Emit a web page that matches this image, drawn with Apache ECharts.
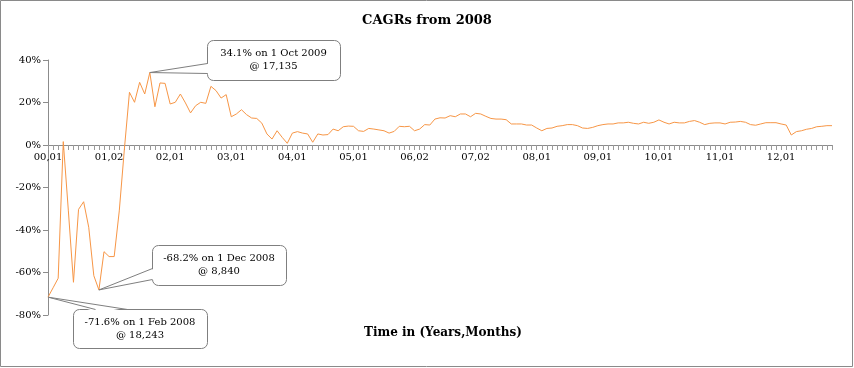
<!DOCTYPE html>
<html>
<head>
<meta charset="utf-8">
<script src="https://cdn.jsdelivr.net/npm/echarts@6/dist/echarts.min.js"></script>
<style>
html,body{margin:0;padding:0;background:#fff;}
#c{width:854px;height:368px;}
</style>
</head>
<body>
<div id="c"></div>
<script>
// Monthly CAGR (%) from 1 Feb 2008 to 1 Dec 2020
const cagrValues = [
 -71.6,-67.2,-62.7,1.6,-31,-64.6,-30.3,-26.7,-38.7,-61.5,
 -68.2,-50.2,-52.5,-52.5,-31,-2,24.8,20.1,29.5,24.0,
 34.1,18.0,29.2,29.0,19.3,20.1,24.0,19.8,15.1,18.5,
 20.1,19.6,27.6,25.6,22.1,23.7,13.3,14.6,16.6,14.3,
 12.7,12.5,10.3,5.2,2.8,6.7,3.6,0.8,5.6,6.3,
 5.6,5.2,1.3,5.2,4.7,4.9,7.5,6.7,8.6,8.9,
 8.8,6.7,6.4,7.8,7.5,7.1,6.7,5.6,6.4,8.8,
 8.6,8.8,6.7,7.5,9.6,9.4,12.2,12.8,12.7,13.8,
 13.3,14.6,14.6,13.3,14.9,14.6,13.5,12.5,12.2,12.2,
 11.9,9.9,9.9,9.9,9.4,9.4,8.0,6.7,7.8,8.0,
 8.8,9.1,9.6,9.6,9.1,8.0,7.8,8.3,9.1,9.6,
 9.9,9.9,10.4,10.4,10.7,10.2,9.9,10.7,10.2,10.7,
 11.8,10.7,9.9,10.7,10.4,10.4,11.1,11.5,10.7,9.6,
 10.2,10.4,10.4,9.9,10.7,10.8,11.1,10.7,9.6,9.3,
 9.9,10.5,10.5,10.5,9.9,9.4,4.7,6.3,6.7,7.4,
 7.8,8.6,8.8,9.1,9.1
];
// x tick labels shown every 12 months (Years,Months)
const xTickLabels = ['00,01','01,02','02,01','03,01','04,01','05,01','06,02','07,02','08,01','09,01','10,01','11,01','12,01'];
const yTicks = {min:-80, max:40, interval:20};
// Annotated points: index into cagrValues, and callout text
const annotationIdx = [20, 10, 0];
const annotationText = [
 ['34.1% on 1 Oct 2009','@ 17,135'],
 ['-68.2% on 1 Dec 2008','@ 8,840'],
 ['-71.6% on 1 Feb 2008','@ 18,243']
];

const months = ['Jan','Feb','Mar','Apr','May','Jun','Jul','Aug','Sep','Oct','Nov','Dec'];
const categories = cagrValues.map((v,i)=>{const m=1+i; return months[m%12]+' '+(2008+Math.floor(m/12));});

const FONT = '"DejaVu Serif", "Liberation Serif", serif';
const GRID = {left:48, right:22, top:60, bottom:53};
const chart = echarts.init(document.getElementById('c'), null, {renderer:'canvas'});
// distance from grid bottom to the zero line (x axis sits on 0%)
const plotH = 368 - GRID.top - GRID.bottom;
const zeroOffset = -Math.round(plotH * (0 - yTicks.min) / (yTicks.max - yTicks.min));
chart.setOption({
  animation:false,
  backgroundColor:'#fff',
  title:[
    {text:'CAGRs from 2008', left:'center', top:9,
     textStyle:{fontFamily:FONT, fontSize:13, fontWeight:'bold', color:'#000'}},
    {text:'Time in (Years,Months)', left:438, top:322, textAlign:'center',
     textStyle:{fontFamily:FONT, fontSize:12, fontWeight:'bold', color:'#000'}}
  ],
  grid:GRID,
  xAxis:{
    type:'category', data:categories, boundaryGap:false,
    offset:zeroOffset,
    axisLine:{onZero:false, lineStyle:{color:'#8c8c8c', width:1}},
    axisTick:{show:true, interval:0, length:5, lineStyle:{color:'#9a9a9a'}},
    axisLabel:{interval:11, margin:7, fontFamily:FONT, fontSize:10, color:'#000',
      formatter:(v,i)=> xTickLabels[Math.round(i/12)] || ''},
    splitLine:{show:false}
  },
  yAxis:{
    type:'value', min:yTicks.min, max:yTicks.max, interval:yTicks.interval,
    axisLine:{show:true, lineStyle:{color:'#8c8c8c'}},
    axisTick:{show:true, length:5, lineStyle:{color:'#8c8c8c'}},
    axisLabel:{formatter:'{value}%', margin:7, fontFamily:FONT, fontSize:10, color:'#000'},
    splitLine:{show:false}
  },
  series:[{
    type:'line', data:cagrValues, showSymbol:false, symbol:'none',
    lineStyle:{color:'#F79646', width:1}, itemStyle:{color:'#F79646'}
  }]
});

// Callout layout (box rect and wedge base points on the box edge)
const boxes = [
  {x:207, y:40, w:133, h:40, b1:[207,63], b2:[207,73], inset:[2,0]},
  {x:152, y:245, w:134, h:40, b1:[152,268], b2:[152,279], inset:[2,0]},
  {x:73, y:309, w:134, h:39, b1:[95,309], b2:[127,309], inset:[0,2]}
];
const gfx = [];
gfx.push({type:'rect', shape:{x:0.5,y:0.5,width:852,height:366}, style:{fill:null, stroke:'#8a8a8a', lineWidth:1}, silent:true, z:1});
annotationIdx.forEach((idx,k)=>{
  const pt = chart.convertToPixel({xAxisIndex:0, yAxisIndex:0}, [idx, cagrValues[idx]]);
  const b = boxes[k];
  gfx.push({type:'rect', shape:{x:b.x+0.5, y:b.y+0.5, width:b.w, height:b.h, r:6},
    style:{fill:'#fff', stroke:'#7f7f7f', lineWidth:1}, z:100});
  gfx.push({type:'polygon', shape:{points:[[b.b1[0]+b.inset[0]+0.5, b.b1[1]+b.inset[1]+0.5], pt, [b.b2[0]+b.inset[0]+0.5, b.b2[1]+b.inset[1]+0.5]]},
    style:{fill:'#fff', stroke:null}, z:101});
  gfx.push({type:'polyline', shape:{points:[[b.b1[0]+0.5,b.b1[1]+0.5], pt, [b.b2[0]+0.5,b.b2[1]+0.5]]},
    style:{fill:null, stroke:'#7f7f7f', lineWidth:1}, z:102});
  gfx.push({type:'text', x:b.x+b.w/2, y:b.y+b.h/2,
    style:{text:annotationText[k].join('\n'), fontFamily:FONT, fontSize:10, fill:'#000',
      align:'center', verticalAlign:'middle', lineHeight:13}, z:103});
});
chart.setOption({graphic:{elements:gfx}});
</script>
</body>
</html>
